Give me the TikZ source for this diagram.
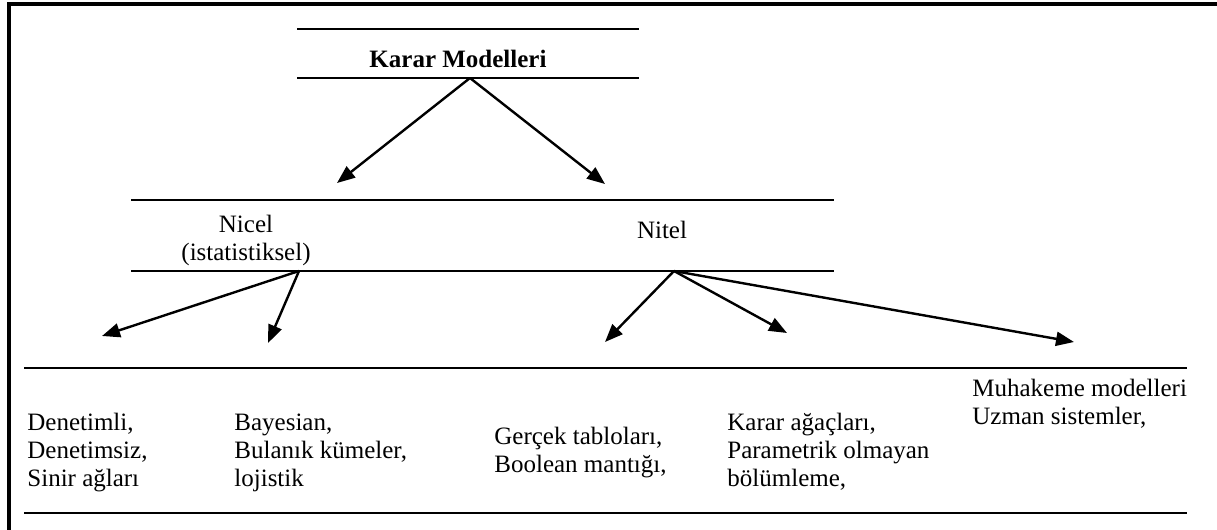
\documentclass[tikz,border=0pt]{standalone}
\usepackage{fontspec}
\setmainfont{Liberation Serif}
\usetikzlibrary{arrows.meta}
\begin{document}
\begin{tikzpicture}[x=0.5pt, y=-0.5pt,
    every node/.style={inner sep=0pt, font=\fontsize{12.5}{14}\selectfont},
    rule/.style={line width=1.3pt},
    link/.style={line width=1.2pt, -{Triangle[length=9pt,width=7pt]}},
    item/.style={anchor=base west, align=left}]
  \useasboundingbox (0,0) rectangle (1217,530);
  \clip (0,0) rectangle (1217,530);
  \draw [line width=1.6pt] (9,4) rectangle (1250,570);
  % levels
  \draw [rule] (297,29) -- (639,29);
  \draw [rule] (297,78) -- (639,78);
  \draw [rule] (131,200) -- (834,200);
  \draw [rule] (131,271) -- (834,271);
  \draw [rule] (24,368) -- (1187,368);
  \draw [rule] (24,513) -- (1187,513);
  % texts (base = last line)
  \node [anchor=base, font=\fontsize{12.5}{14}\selectfont\bfseries] (km) at (458,68) {Karar Modelleri};
  \node [anchor=base, align=center] (nicel) at (246,260) {Nicel\\(istatistiksel)};
  \node [anchor=base] (nitel) at (662,238) {Nitel};
  \node [item] (d1) at (27,486) {Denetimli,\\Denetimsiz,\\Sinir ağları};
  \node [item] (d2) at (234,486) {Bayesian,\\Bulanık kümeler,\\lojistik};
  \node [item] (d3) at (494,472) {Gerçek tabloları,\\Boolean mantığı,};
  \node [item] (d4) at (727,486) {Karar ağaçları,\\Parametrik olmayan\\bölümleme,};
  \node [item] (d5) at (972,424) {Muhakeme modelleri\\Uzman sistemler,};
  % arrow ends
  \coordinate (a0) at (470,78);
  \coordinate (a1) at (337,183);
  \coordinate (a2) at (605,184);
  \coordinate (b0) at (299,271);
  \coordinate (b1) at (102,336);
  \coordinate (b2) at (268,343);
  \coordinate (c0) at (674,271);
  \coordinate (c1) at (605,342);
  \coordinate (c2) at (787,333);
  \coordinate (c3) at (1074,342);
  \draw [link] (a0) -- (a1);
  \draw [link] (a0) -- (a2);
  \draw [link] (b0) -- (b1);
  \draw [link] (b0) -- (b2);
  \draw [link] (c0) -- (c1);
  \draw [link] (c0) -- (c2);
  \draw [link] (c0) -- (c3);
\end{tikzpicture}
\end{document}
